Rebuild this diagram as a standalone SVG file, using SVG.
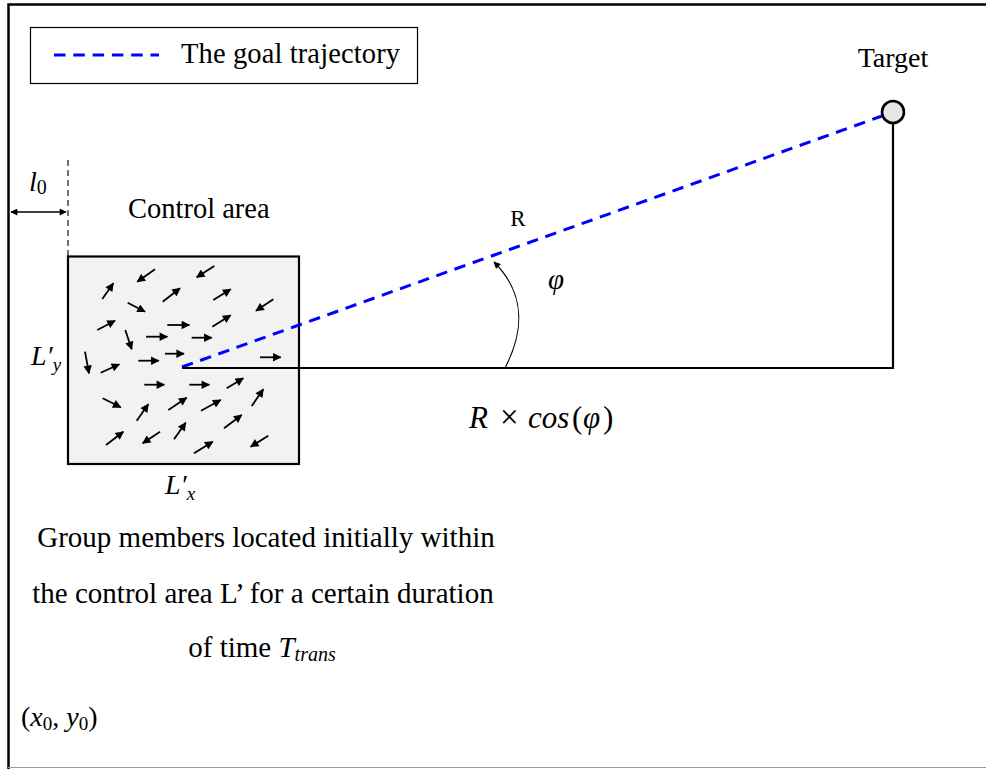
<svg xmlns="http://www.w3.org/2000/svg" width="986" height="769" viewBox="0 0 986 769">
<style>
text{font-family:"Liberation Serif","DejaVu Serif",serif;fill:#000}
.it{font-style:italic}
.ar{stroke:#000;stroke-width:1.8;fill:none}
.blue{stroke:#0000ff;stroke-width:3;stroke-dasharray:11.5 7.8;fill:none}
</style>
<defs>
<marker id="ah" viewBox="0 0 10 10" refX="9" refY="5" markerUnits="userSpaceOnUse" markerWidth="10" markerHeight="8.5" orient="auto">
<path d="M0,0 L10,5 L0,10 z" fill="#000"/>
</marker>
<marker id="ahs" viewBox="0 0 10 10" refX="9" refY="5" markerUnits="userSpaceOnUse" markerWidth="8.5" markerHeight="7" orient="auto-start-reverse">
<path d="M0,0 L10,5 L0,10 z" fill="#000"/>
</marker>
</defs>
<rect width="986" height="769" fill="#fff"/>
<g id="frame">
<path d="M8.5,769 V4.5 H990" fill="none" stroke="#000" stroke-width="2.5"/>
<line x1="8" y1="767.5" x2="986" y2="767.5" stroke="#999" stroke-width="1.2"/>
</g>
<g id="legend">
<rect x="30.5" y="27.5" width="387" height="56" fill="#fff" stroke="#000" stroke-width="1.2"/>
<line class="blue" x1="54" y1="55" x2="159" y2="55"/>
<text x="181" y="63" font-size="28.5" textLength="219" lengthAdjust="spacing">The goal trajectory</text>
</g>
<g id="control-area">
<rect x="68" y="256.5" width="231" height="207.5" fill="#f2f2f2" stroke="#000" stroke-width="2.2"/>
<g class="ar" marker-end="url(#ah)">
<line x1="102.3" y1="299" x2="113.3" y2="283.3"/>
<line x1="155" y1="269.3" x2="137.3" y2="281.7"/>
<line x1="214.3" y1="266" x2="196.7" y2="277.3"/>
<line x1="162.7" y1="301.7" x2="180" y2="288.3"/>
<line x1="213.3" y1="300" x2="230.7" y2="289.3"/>
<line x1="273.3" y1="299.3" x2="256" y2="310.7"/>
<line x1="127.7" y1="302.7" x2="145" y2="311.7"/>
<line x1="97.3" y1="330" x2="115" y2="320.7"/>
<line x1="167.3" y1="325" x2="189.3" y2="325"/>
<line x1="212.3" y1="326.7" x2="230.7" y2="315.3"/>
<line x1="125.3" y1="330" x2="131.7" y2="349.3"/>
<line x1="146" y1="336.7" x2="167.3" y2="336.7"/>
<line x1="191.7" y1="337.7" x2="211.7" y2="337.7"/>
<line x1="85" y1="351.7" x2="89" y2="373.3"/>
<line x1="100.7" y1="372.7" x2="119.3" y2="364.3"/>
<line x1="138.3" y1="360.7" x2="158.7" y2="360.7"/>
<line x1="165" y1="353.7" x2="184" y2="353.7"/>
<line x1="260" y1="357.3" x2="280.7" y2="357.3"/>
<line x1="144.3" y1="384.7" x2="164.3" y2="384.7"/>
<line x1="189.3" y1="384.7" x2="209.3" y2="384.7"/>
<line x1="226.7" y1="388.3" x2="243.3" y2="378.3"/>
<line x1="102.7" y1="398.3" x2="120.7" y2="407.3"/>
<line x1="136.7" y1="420.7" x2="148.3" y2="404.3"/>
<line x1="168.3" y1="410" x2="186.7" y2="397.7"/>
<line x1="201" y1="410.7" x2="220.7" y2="400"/>
<line x1="251.7" y1="406" x2="263.3" y2="389.3"/>
<line x1="224" y1="428.3" x2="241.7" y2="415"/>
<line x1="106" y1="445" x2="123.3" y2="431.7"/>
<line x1="160" y1="431.7" x2="142.7" y2="443.3"/>
<line x1="174" y1="439.3" x2="185.7" y2="422.7"/>
<line x1="194" y1="453.3" x2="212.7" y2="441.7"/>
<line x1="268.3" y1="435.7" x2="250.7" y2="446.7"/>
</g>
<text x="128" y="218" font-size="28.5">Control area</text>
<text x="31" y="365" font-size="28" class="it">L′<tspan font-size="19" dy="6">y</tspan></text>
<text x="165" y="494" font-size="28" class="it">L′<tspan font-size="19" dy="6">x</tspan></text>
</g>
<g id="target">
<circle cx="893" cy="112" r="11" fill="#e6e6e6" stroke="#000" stroke-width="2.6"/>
<text x="893" y="67" font-size="28" text-anchor="middle">Target</text>
</g>
<g id="connectors">
<line class="blue" x1="182" y1="367" x2="882" y2="116"/>
<path d="M182,368 H893 V123" fill="none" stroke="#000" stroke-width="2.2"/>
<path d="M505.5,367 C522,335 528,296 494,262" fill="none" stroke="#000" stroke-width="1.1" marker-end="url(#ahs)"/>
<line x1="68" y1="160" x2="68" y2="256" stroke="#000" stroke-width="1.1" stroke-dasharray="6 4"/>
<line x1="11" y1="212" x2="66" y2="212" stroke="#000" stroke-width="1.3" marker-start="url(#ahs)" marker-end="url(#ahs)"/>
</g>
<g id="labels">
<text x="29" y="191" font-size="28" class="it">l<tspan font-size="20" dy="3" font-style="normal">0</tspan></text>
<text x="518" y="226" font-size="23" text-anchor="middle">R</text>
<text x="556" y="289" font-size="29" class="it" text-anchor="middle">φ</text>
<text y="428" font-size="31"><tspan class="it" x="469">R</tspan><tspan x="500" font-size="33">×</tspan><tspan class="it" x="528">cos</tspan><tspan x="572">(</tspan><tspan class="it" x="583">φ</tspan><tspan x="603">)</tspan></text>
<text x="266" y="547" font-size="29" text-anchor="middle">Group members located initially within</text>
<text x="263" y="603" font-size="29" text-anchor="middle">the control area L’ for a certain duration</text>
<text x="262" y="657" font-size="29" text-anchor="middle">of time <tspan class="it">T</tspan><tspan class="it" font-size="20" dy="4">trans</tspan></text>
<text x="21" y="726" font-size="28">(<tspan class="it">x</tspan><tspan font-size="19" dy="4">0</tspan><tspan dy="-4">, </tspan><tspan class="it">y</tspan><tspan font-size="19" dy="4">0</tspan><tspan dy="-4">)</tspan></text>
</g>
</svg>
